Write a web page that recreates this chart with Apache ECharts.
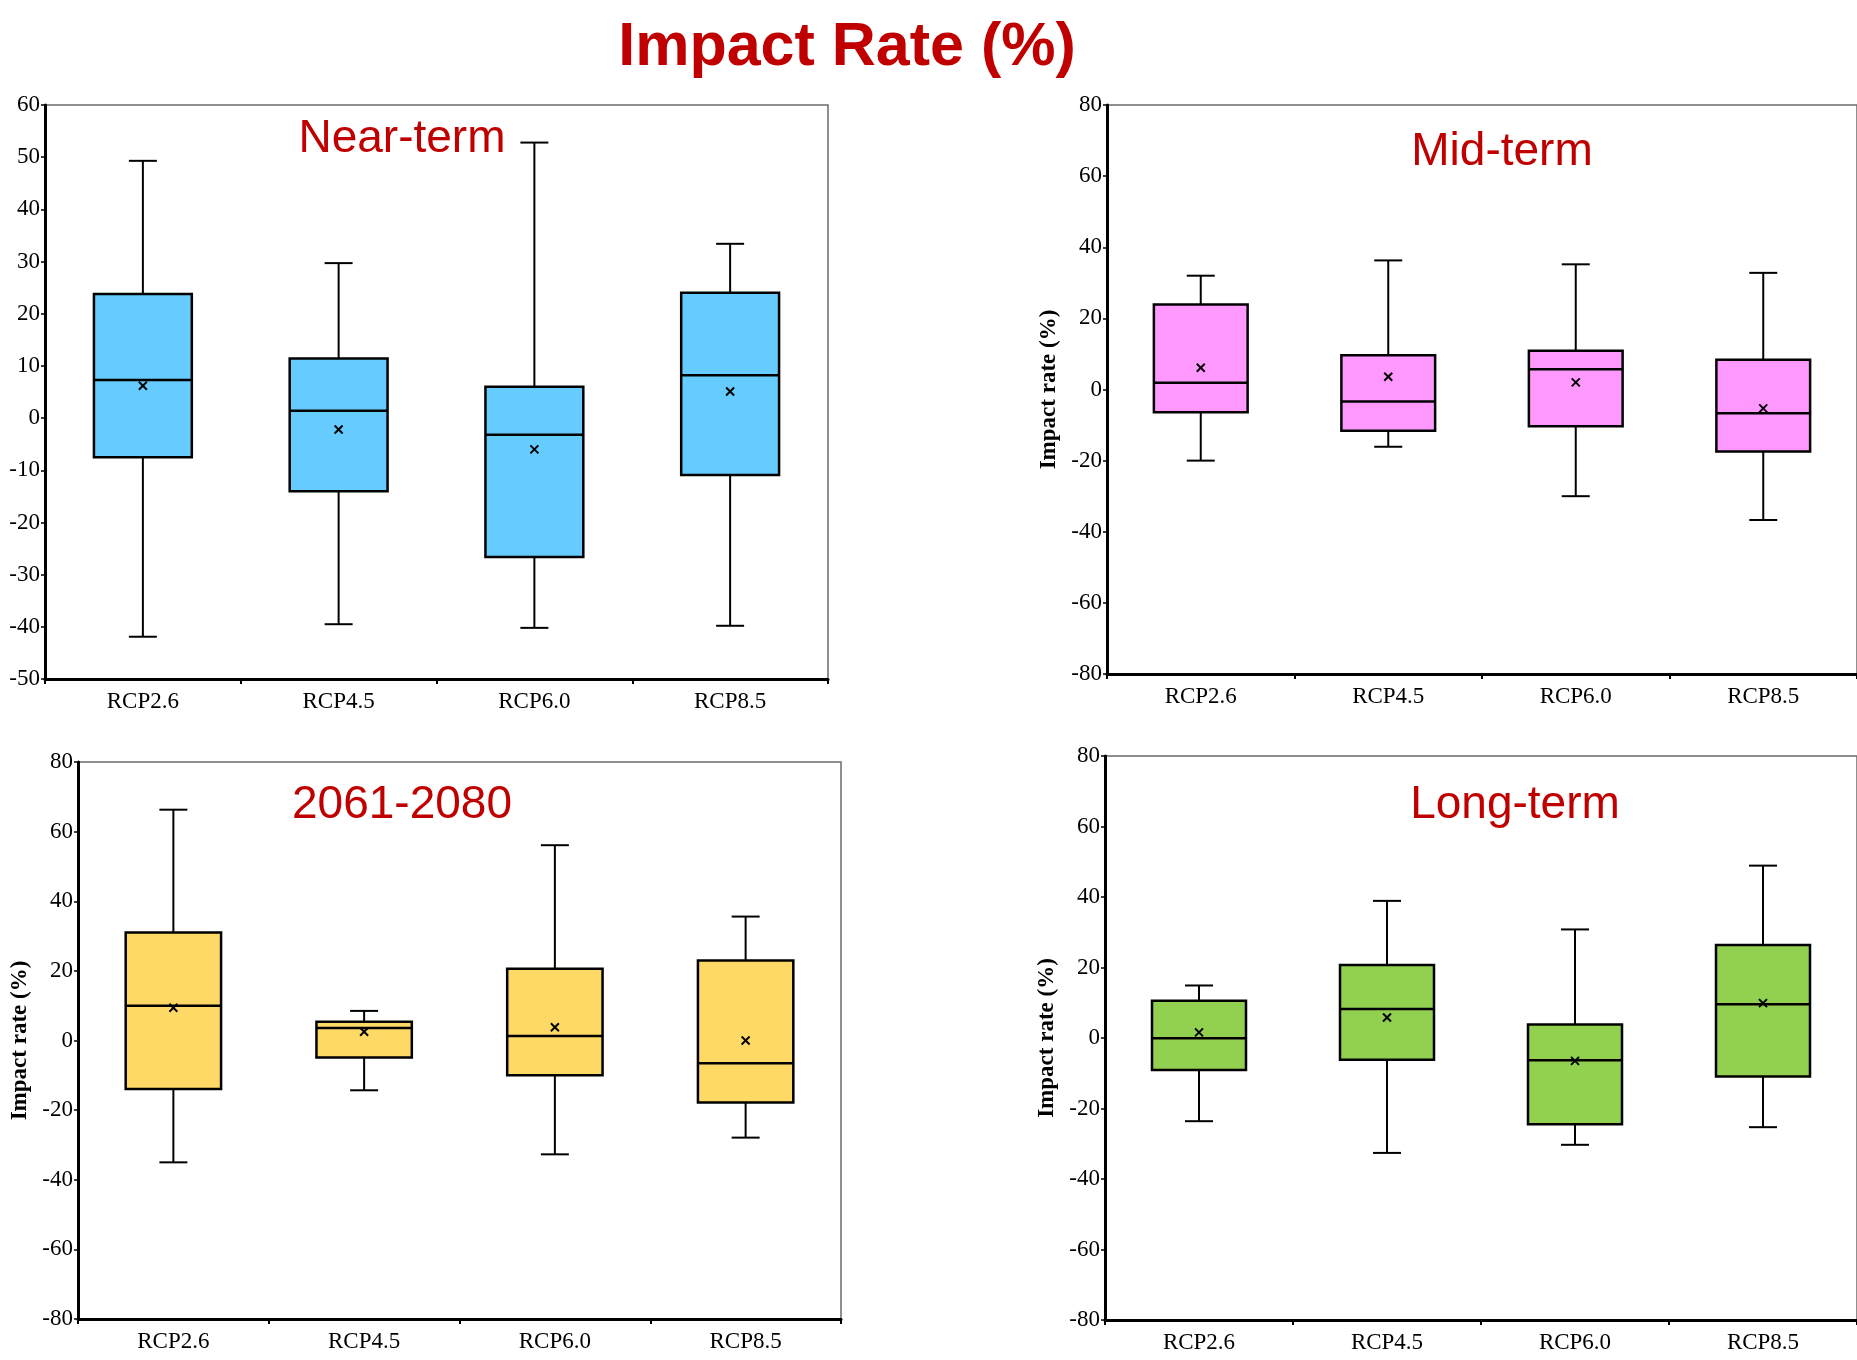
<!DOCTYPE html>
<html>
<head>
<meta charset="utf-8">
<script src="https://cdn.jsdelivr.net/npm/echarts@6/dist/echarts.min.js"></script>
<style>
html,body{margin:0;padding:0;background:#fff;}
#chart{width:1857px;height:1360px;}
</style>
</head>
<body>
<div id="chart"></div>
<script>
// ---- data ----
const categories = ['RCP2.6', 'RCP4.5', 'RCP6.0', 'RCP8.5'];
// each row: [lowWhisker, Q1, median, Q3, highWhisker, mean]
const nearTerm = [
  [-41.9, -7.5, 7.3, 23.8, 49.3, 6.2],
  [-39.5, -14.0, 1.4, 11.4, 29.7, -2.2],
  [-40.2, -26.6, -3.2, 6.0, 52.8, -6.0],
  [-39.8, -10.9, 8.2, 24.0, 33.4, 5.1]
];
const midTerm = [
  [-20.0, -6.4, 1.9, 23.9, 32.0, 6.1],
  [-16.1, -11.6, -3.4, 9.6, 36.3, 3.6],
  [-30.0, -10.3, 5.7, 10.9, 35.2, 2.0],
  [-36.7, -17.4, -6.7, 8.4, 32.8, -5.3]
];
const period2061 = [
  [-35.0, -13.9, 10.0, 31.0, 66.3, 9.4],
  [-14.3, -4.9, 3.6, 5.4, 8.5, 2.5],
  [-32.7, -10.0, 1.3, 20.6, 56.1, 3.8],
  [-27.9, -17.8, -6.5, 23.0, 35.6, 0.0]
];
const longTerm = [
  [-23.6, -9.1, -0.1, 10.6, 14.9, 1.6],
  [-32.6, -6.2, 8.2, 20.7, 38.9, 5.8],
  [-30.3, -24.5, -6.3, 3.8, 30.8, -6.5],
  [-25.3, -10.9, 9.6, 26.4, 48.9, 9.9]
];
const panelTitles = ['Near-term', 'Mid-term', '2061-2080', 'Long-term'];
const mainTitle = 'Impact Rate (%)';
const yAxisName = 'Impact rate (%)';

// ---- layout / style ----
const panels = [
  {data: nearTerm,   color: '#66CCFF', grid: {left: 45,   top: 105, width: 783, height: 574}, min: -50, max: 60, interval: 10, name: '',        title: [402, 139]},
  {data: midTerm,    color: '#FF99FF', grid: {left: 1107, top: 105, width: 778, height: 569}, min: -80, max: 80, interval: 20, name: yAxisName, title: [1502, 152]},
  {data: period2061, color: '#FFD966', grid: {left: 78,   top: 762, width: 763, height: 557}, min: -80, max: 80, interval: 20, name: yAxisName, title: [402, 805]},
  {data: longTerm,   color: '#92D050', grid: {left: 1105, top: 756, width: 771, height: 564}, min: -80, max: 80, interval: 20, name: yAxisName, title: [1515, 805]}
];

function makeRender(fill) {
  return function (params, api) {
    const ci = api.value(0);
    const lo = api.coord([ci, api.value(1)]);
    const q1 = api.coord([ci, api.value(2)]);
    const md = api.coord([ci, api.value(3)]);
    const q3 = api.coord([ci, api.value(4)]);
    const hi = api.coord([ci, api.value(5)]);
    const mn = api.coord([ci, api.value(6)]);
    const band = api.size([1, 0])[0];
    const bw = band * 0.5, cw = 28, x = lo[0];
    const ls = {stroke: '#000', lineWidth: 2};
    const m = 4;
    return {
      type: 'group',
      children: [
        {type: 'line', shape: {x1: x, y1: hi[1], x2: x, y2: q3[1]}, style: ls},
        {type: 'line', shape: {x1: x, y1: q1[1], x2: x, y2: lo[1]}, style: ls},
        {type: 'line', shape: {x1: x - cw / 2, y1: hi[1], x2: x + cw / 2, y2: hi[1]}, style: ls},
        {type: 'line', shape: {x1: x - cw / 2, y1: lo[1], x2: x + cw / 2, y2: lo[1]}, style: ls},
        {type: 'rect', shape: {x: x - bw / 2, y: q3[1], width: bw, height: q1[1] - q3[1]}, style: {fill: fill, stroke: '#000', lineWidth: 2.5}},
        {type: 'line', shape: {x1: x - bw / 2, y1: md[1], x2: x + bw / 2, y2: md[1]}, style: {stroke: '#000', lineWidth: 2.5}},
        {type: 'line', shape: {x1: mn[0] - m, y1: mn[1] - m, x2: mn[0] + m, y2: mn[1] + m}, style: {stroke: '#000', lineWidth: 2}},
        {type: 'line', shape: {x1: mn[0] - m, y1: mn[1] + m, x2: mn[0] + m, y2: mn[1] - m}, style: {stroke: '#000', lineWidth: 2}}
      ]
    };
  };
}

const serif = 'Liberation Serif';
const option = {
  animation: false,
  backgroundColor: '#fff',
  grid: [], xAxis: [], yAxis: [], series: [],
  graphic: [{
    type: 'text', x: 847, y: 48,
    style: {text: mainTitle, fill: '#C00000', font: 'bold 61px "Liberation Sans"', align: 'center', verticalAlign: 'middle'}
  }]
};

panels.forEach(function (p, i) {
  option.grid.push(Object.assign({show: true, borderColor: '#6b6b6b', borderWidth: 1.5, backgroundColor: 'transparent', containLabel: false}, p.grid));
  option.xAxis.push({
    type: 'category', gridIndex: i, data: categories,
    axisLine: {onZero: false, lineStyle: {color: '#000', width: 3}},
    axisTick: {show: true, length: 5, lineStyle: {color: '#000', width: 2}},
    axisLabel: {color: '#000', fontFamily: serif, fontSize: 23, margin: 11},
    splitLine: {show: false}
  });
  option.yAxis.push({
    type: 'value', gridIndex: i, min: p.min, max: p.max, interval: p.interval,
    name: p.name, nameLocation: 'middle', nameRotate: 90, nameGap: 46,
    nameTextStyle: {color: '#000', fontFamily: serif, fontWeight: 'bold', fontSize: 23},
    axisLine: {show: true, onZero: false, lineStyle: {color: '#000', width: 3}},
    axisTick: {show: true, length: 4, lineStyle: {color: '#000', width: 1.5}},
    axisLabel: {color: '#000', fontFamily: serif, fontSize: 23, margin: 5},
    splitLine: {show: false}
  });
  option.series.push({
    type: 'custom', xAxisIndex: i, yAxisIndex: i,
    renderItem: makeRender(p.color),
    encode: {x: 0, y: [1, 2, 3, 4, 5, 6]},
    data: p.data.map(function (r, k) { return [k].concat(r); }),
    z: 5
  });
  option.graphic.push({
    type: 'text', x: p.title[0], y: p.title[1],
    style: {text: panelTitles[i], fill: '#C00000', font: '46px "Liberation Sans"', align: 'center', verticalAlign: 'middle'}
  });
});

const chart = echarts.init(document.getElementById('chart'), null, {renderer: 'canvas'});
chart.setOption(option);
</script>
</body>
</html>
